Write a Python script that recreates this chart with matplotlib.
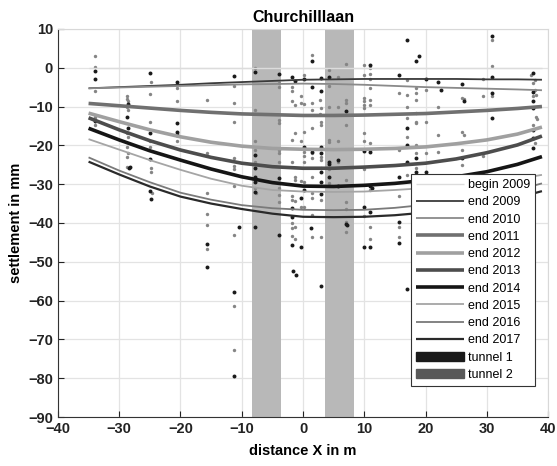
import matplotlib
matplotlib.use("Agg")
import matplotlib.pyplot as plt
from matplotlib.patches import Patch

plt.rcParams['font.family'] = ['Liberation Sans', 'DejaVu Sans']

# ---------------- data ----------------
curve_x = [-35, -30, -25, -20, -15, -10, -5, 0, 5, 10, 15, 20, 25, 30, 35, 39]
curve_labels = ["begin 2009", "end 2009", "end 2010", "end 2011", "end 2012",
                "end 2013", "end 2014", "end 2015", "end 2016", "end 2017"]
begin_2009 = [0, 0, 0, 0, 0, 0, 0, 0, 0, 0, 0, 0, 0, 0, 0, 0]
end_2009 = [-5.3, -5.0, -4.7, -4.4, -4.0, -3.7, -3.4, -3.1, -3.0, -2.9, -2.9, -2.9, -2.9, -3.0, -3.0, -3.1]
end_2010 = [-5.3, -5.1, -4.9, -4.7, -4.5, -4.3, -4.2, -4.1, -4.2, -4.4, -4.7, -5.0, -5.2, -5.4, -5.6, -5.8]
end_2011 = [-9.2, -9.8, -10.4, -11.0, -11.5, -11.9, -12.1, -12.3, -12.3, -12.2, -12.0, -11.8, -11.4, -11.0, -10.5, -10.0]
end_2012 = [-11.7, -13.9, -16.0, -17.8, -19.2, -20.2, -20.8, -21.0, -21.1, -21.0, -20.8, -20.4, -19.6, -18.6, -17.1, -15.3]
end_2013 = [-12.9, -16.0, -18.8, -21.2, -23.1, -24.6, -25.5, -25.9, -25.9, -25.6, -25.2, -24.6, -23.5, -21.9, -19.9, -17.6]
end_2014 = [-15.6, -18.6, -21.4, -23.8, -26.1, -28.1, -29.6, -30.5, -30.6, -30.3, -29.8, -29.0, -28.1, -26.8, -24.9, -22.9]
end_2015 = [-18.4, -21.1, -23.8, -26.3, -28.6, -30.4, -31.5, -31.9, -32.0, -31.9, -31.5, -31.0, -30.4, -29.8, -28.7, -27.6]
end_2016 = [-23.1, -26.5, -29.5, -32.2, -34.0, -35.4, -36.2, -36.6, -36.7, -36.6, -36.1, -35.3, -34.3, -33.0, -31.5, -29.8]
end_2017 = [-24.2, -27.5, -30.6, -33.2, -35.0, -36.4, -37.6, -38.4, -38.5, -38.4, -38.0, -37.3, -36.3, -35.0, -33.5, -31.8]
curves = [begin_2009, end_2009, end_2010, end_2011, end_2012,
          end_2013, end_2014, end_2015, end_2016, end_2017]

tunnel_1 = [-8.4, -3.6]
tunnel_2 = [3.6, 8.4]

dark_points = [
    (-34, -0.9), (-34, -2.8), (-34, -13.6),
    (-28.5, -9.3), (-28.7, -12.8), (-28.5, -15.6), (-28.2, -25.7), (-28.4, -25.9),
    (-25, -1.3), (-25, -16.7), (-25, -23.6), (-25, -31.7), (-24.8, -33.7),
    (-20.5, -3.6), (-20.5, -14.2), (-20.5, -16.5), (-20.5, -17.3),
    (-15.7, -45.3), (-15.7, -51.3),
    (-11.2, -2.1), (-10.5, -41.0), (-11.2, -57.9), (-11.2, -79.4),
    (-7.8, -1.0), (-7.8, -22.5), (-7.8, -25.9), (-7.8, -28.1), (-7.8, -29.4), (-7.8, -31.9), (-7.8, -41.0),
    (-4, -1.7), (-4, -28.5), (-4, -43.1),
    (-1.8, -2.5), (-1.8, -36.2), (-1.8, -38.4), (-1.8, -45.7),
    (-1.3, -3.4), (-1.6, -52.4), (-1.1, -53.4),
    (-0.3, -33.6), (-0.3, -46.1),
    (0.2, -3.0), (0.2, -20.3), (0.2, -31.5),
    (1.5, 1.6), (1.5, -4.9), (1.5, -21.6), (1.3, -41.4),
    (3.0, -2.7), (3.0, -6.0), (3.0, -20.3), (3.0, -22.0), (3.0, -26.8), (3.0, -29.4), (3.0, -32.6), (3.0, -56.2),
    (4.2, -2.3), (4.2, -24.2), (4.2, -24.9), (4.2, -28.1),
    (5.7, -23.8), (5.7, -30.6),
    (7.0, -11.1), (7.0, -40.3), (7.2, -40.6),
    (10, -21.4), (10, -35.8), (10, -46.1),
    (11, 0.7), (11, -21.6), (11, -30.6), (11.2, -31.1), (11, -37.1), (11, -46.1),
    (15.6, -1.9), (15.6, -28.1), (15.6, -39.7), (15.6, -45.2),
    (17, 7.2), (17, -15.6), (17, -19.9), (17, -24.2), (16.9, -57.0),
    (18.5, 1.6), (19, 2.9), (18.5, -23.3), (18.5, -26.8),
    (20, -3.0), (20, -26.8),
    (22, -3.8), (22.5, -5.7),
    (26, -4.3), (26.3, -8.6), (26, -23.2),
    (30.8, 8.2), (30.8, -2.3), (30.8, -6.6), (30.8, -12.9),
    (37.5, -1.4), (37.5, -6.2), (37.5, -8.6), (37.5, -10.4), (37.5, -16.0), (37.5, -18.2), (37.5, -20.7),
]
gray_points = [
    (-34, 2.9), (-34, 0.3), (-34, -6.0), (-34, -12.6), (-34, -13.3), (-34, -14.7),
    (-28.7, -7.4), (-28.7, -8.1), (-28.5, -8.7), (-28.7, -10.0), (-28.5, -10.9), (-28.7, -16.7),
    (-28.5, -17.9), (-28.7, -20.3), (-28.5, -22.0), (-28.7, -22.9), (-28.7, -25.5),
    (-24.8, -3.8), (-25, -6.8), (-25, -13.9), (-25, -19.0), (-25, -20.3), (-24.8, -25.9),
    (-24.8, -26.9), (-24.6, -32.2),
    (-20.5, -5.3), (-20.5, -8.7), (-20.5, -16.9), (-20.5, -19.0),
    (-15.7, -8.3), (-15.7, -21.9), (-15.7, -32.2), (-15.7, -37.7), (-15.7, -40.5), (-15.7, -46.8),
    (-11.2, -43.1), (-11.2, -61.4), (-11.2, -72.7), (-11.2, -4.7), (-11.2, -9.0), (-11.2, -13.9),
    (-11.2, -23.3), (-11.2, -25.3), (-11.2, -26.2), (-11.2, -30.5),
    (-7.8, -0.1), (-7.8, -10.9), (-7.8, -19.0), (-7.8, -21.2), (-7.8, -24.4), (-7.8, -31.1), (-7.6, -32.2),
    (-4, -4.0), (-4, -4.9), (-4, -13.5), (-4, -14.3), (-4, -21.2), (-4, -22.0), (-4, -24.2),
    (-4, -31.1), (-4, -32.8), (-4, -34.5),
    (-1.8, -4.9), (-1.8, -6.0), (-1.8, -8.6), (-1.8, -18.6), (-1.8, -24.2), (-1.8, -33.0),
    (-1.8, -34.1), (-1.8, -40.1), (-1.8, -41.4), (-1.8, -43.3),
    (-1.3, -9.6), (-1.3, -16.9), (-1.3, -28.1), (-1.3, -28.9), (-1.3, -34.3), (-1.3, -41.0), (-1.3, -44.0),
    (-0.3, -7.3), (-0.3, -9.0), (-0.3, -19.0), (-0.3, -29.2), (-0.3, -35.8),
    (0.2, -1.9), (0.2, -9.4), (0.2, -16.5), (0.2, -21.6), (0.2, -22.7), (0.2, -24.2), (0.2, -29.4), (0.2, -36.0),
    (1.5, 3.3), (1.5, -9.2), (1.5, -10.9), (1.5, -15.6), (1.5, -22.0), (1.5, -23.3), (1.5, -28.1),
    (1.5, -32.3), (1.5, -33.6), (1.5, -37.9), (1.5, -43.6),
    (2.8, -8.3), (3.0, -10.3), (2.8, -12.0), (3.0, -13.9), (3.0, -14.7), (3.0, -22.9), (3.0, -23.8),
    (3.0, -25.9), (3.0, -34.1), (3.0, -43.6),
    (4.2, -0.6), (4.2, -4.7), (4.2, -10.0), (4.2, -18.6), (4.2, -19.2), (4.2, -26.1), (4.2, -29.8),
    (5.7, -2.3), (5.7, -10.0), (5.7, -19.0), (5.7, -24.2),
    (7.0, 0.9), (7.0, -8.3), (7.0, -9.2), (7.0, -14.7), (7.0, -28.9), (7.0, -34.5), (7.0, -36.4),
    (7.0, -39.7), (7.0, -42.2),
    (10, 0.7), (10, -1.9), (10, -7.9), (10, -8.7), (10, -9.6), (10, -10.4), (10, -16.9), (10, -19.0),
    (10, -26.1), (10, -38.1),
    (11, -0.1), (11, -1.7), (11, -2.9), (11, -5.3), (11, -8.3), (11, -9.6), (11, -19.5), (11, -21.2),
    (11, -31.5), (11, -41.0), (11, -44.0),
    (15.6, -6.6), (15.6, -21.2), (15.6, -33.0), (15.6, -41.0), (15.6, -43.6),
    (17, -3.1), (17, -7.0), (17, -10.0), (17, -13.0), (17, -17.8), (17, -27.6),
    (18.5, -5.3), (18.5, -6.6), (18.5, -8.3), (18.5, -11.7), (18.5, -13.9), (18.5, -14.3),
    (18.5, -19.9), (18.5, -22.0), (18.5, -25.9),
    (20, -5.7), (20, -13.9), (20, -22.0),
    (22, -10.0), (22, -17.3), (22, -21.6),
    (26, -7.9), (26.3, -8.0), (26, -16.5), (26.3, -17.3), (26, -21.2), (26, -25.1),
    (29.3, -3.0), (29.3, -7.4), (29.3, -22.7),
    (30.8, 7.2), (30.8, 0.5), (30.8, -7.2),
    (37.2, -2.0), (37.8, -3.1), (37.5, -4.0), (37.8, -5.7), (38, -7.0), (37.5, -7.4), (38, -12.6),
    (38.2, -13.3), (37.5, -14.7), (37.8, -19.5),
]

x_ticks = [-40, -30, -20, -10, 0, 10, 20, 30, 40]
y_ticks = [-90, -80, -70, -60, -50, -40, -30, -20, -10, 0, 10]

# ---------------- styles ----------------
curve_colors = ['#dcdcdc', '#3a3a3a', '#8a8a8a', '#707070', '#a0a0a0',
                '#4d4d4d', '#151515', '#a5a5a5', '#7a7a7a', '#2a2a2a']
curve_widths = [1.0, 1.3, 1.3, 2.6, 2.6, 2.6, 2.6, 1.3, 1.3, 1.6]

fig = plt.figure(figsize=(5.57, 4.66), dpi=100)
ax = fig.add_axes([0.104, 0.105, 0.880, 0.833])

ax.set_axisbelow(True)
ax.grid(True, color='#e3e3e3', linewidth=0.9)

ax.axvspan(tunnel_1[0], tunnel_1[1], color='#b8b8b8', lw=0, zorder=1)
ax.axvspan(tunnel_2[0], tunnel_2[1], color='#b8b8b8', lw=0, zorder=1)

ax.scatter([p[0] for p in gray_points], [p[1] for p in gray_points],
           s=6, color='#858585', lw=0, zorder=2)
ax.scatter([p[0] for p in dark_points], [p[1] for p in dark_points],
           s=8, color='#1a1a1a', lw=0, zorder=2)

for ys, lab, c, w in zip(curves, curve_labels, curve_colors, curve_widths):
    ax.plot(curve_x, ys, color=c, lw=w, label=lab, zorder=3,
            solid_joinstyle='round', solid_capstyle='butt')

handles, labels = ax.get_legend_handles_labels()
handles += [Patch(facecolor='#1a1a1a', edgecolor='#1a1a1a'),
            Patch(facecolor='#585858', edgecolor='#585858')]
labels += ['tunnel 1', 'tunnel 2']
leg = ax.legend(handles, labels, loc='upper right', bbox_to_anchor=(0.973, 0.626),
                fontsize=9, frameon=True, fancybox=False, edgecolor='#333333',
                framealpha=1, handlelength=3.8, labelspacing=0.42, borderpad=0.4,
                handletextpad=0.3, borderaxespad=0)
leg.get_frame().set_linewidth(0.8)
leg.set_zorder(5)

ax.set_xlim(-40, 40)
ax.set_ylim(-90, 10)
ax.set_xticks(x_ticks)
ax.set_yticks(y_ticks)
ax.tick_params(direction='in', length=4, width=0.8, labelsize=10.5, colors='#222222')
for t in ax.get_xticklabels() + ax.get_yticklabels():
    t.set_fontweight('bold')

for s in ['left', 'bottom']:
    ax.spines[s].set_color('#333333')
for s in ['top', 'right']:
    ax.spines[s].set_color('#d8d8d8')

ax.set_title('Churchilllaan', fontsize=11.5, fontweight='bold', pad=5)
ax.set_xlabel('distance X in m', fontsize=10.5, fontweight='bold', labelpad=6)
ax.set_ylabel('settlement in mm', fontsize=10.5, fontweight='bold', labelpad=4)

fig.savefig('out.png', dpi=100)
